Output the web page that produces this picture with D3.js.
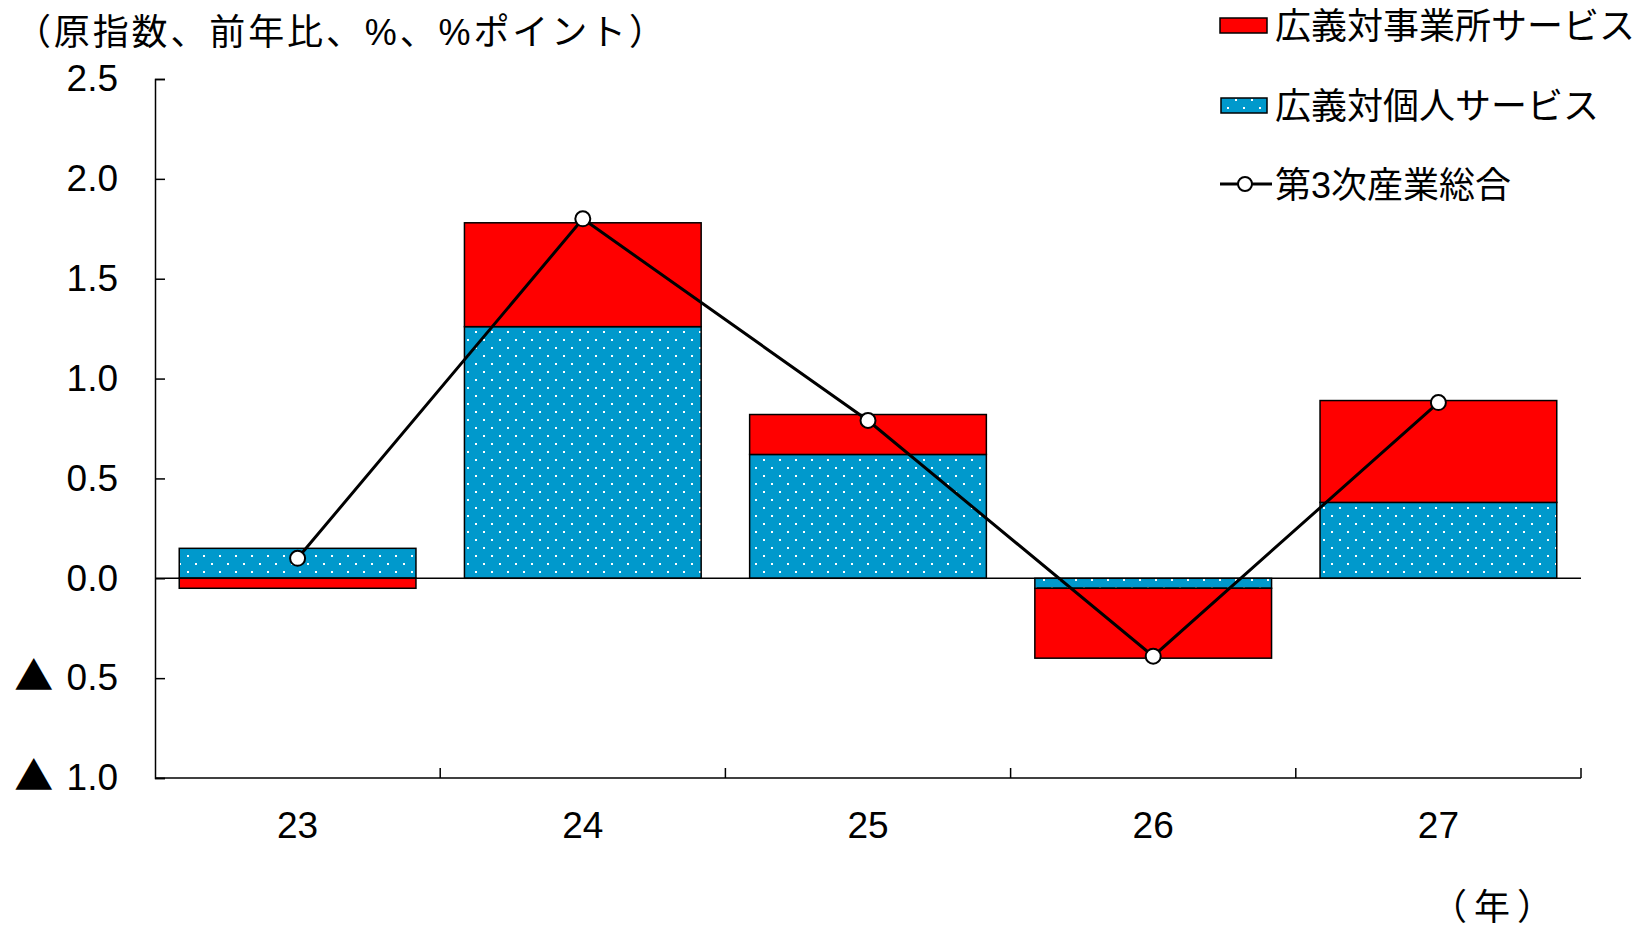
<!DOCTYPE html>
<html>
<head>
<meta charset="utf-8">
<script src="https://cdn.jsdelivr.net/npm/d3@7"></script>
<style>
  body { margin: 0; background: #fff; }
  text { font-family: "Liberation Sans", Arial, "Noto Sans CJK JP", sans-serif; fill: #000; }
</style>
</head>
<body>
<div id="chart"></div>
<script>
var years = ["23", "24", "25", "26", "27"];
var kojin = [0.15, 1.26, 0.62, -0.05, 0.38];      // 広義対個人サービス
var jigyosho = [-0.05, 0.52, 0.20, -0.35, 0.51];  // 広義対事業所サービス
var sogo = [0.10, 1.80, 0.79, -0.39, 0.88];       // 第3次産業総合
var yTicks = [-1.0, -0.5, 0.0, 0.5, 1.0, 1.5, 2.0, 2.5];

var width = 1652, height = 931;
var plotLeft = 155, plotRight = 1581, plotTop = 79, plotBottom = 778;

var svg = d3.select('#chart')
            .append('svg')
            .attr('width', width)
            .attr('height', height);

var defs = svg.append('defs');
var pat = defs.append('pattern')
              .attr('id', 'dots')
              .attr('patternUnits', 'userSpaceOnUse')
              .attr('width', 16)
              .attr('height', 16);
pat.append('rect').attr('width', 16).attr('height', 16).attr('fill', '#0099cc');
pat.append('rect').attr('x', 3).attr('y', 3).attr('width', 2).attr('height', 2).attr('fill', '#fff');
pat.append('rect').attr('x', 11).attr('y', 11).attr('width', 2).attr('height', 2).attr('fill', '#fff');

var x = d3.scaleBand()
          .domain(years)
          .range([plotLeft, plotRight])
          .paddingInner(0.17)
          .paddingOuter(0.085);

var y = d3.scaleLinear()
          .domain([-1, 2.5])
          .range([plotBottom, plotTop]);

// stacked bars (blue first, then red), diverging
var table = years.map(function(d, i) {
	return { year: d, kojin: kojin[i], jigyosho: jigyosho[i] };
});
var stack = d3.stack()
              .keys(['kojin', 'jigyosho'])
              .offset(d3.stackOffsetDiverging);
var series = stack(table);
var fills = { kojin: 'url(#dots)', jigyosho: '#ff0000' };

svg.append('g').selectAll('g')
   .data(series)
   .enter().append('g')
   .attr('fill', function(s) { return fills[s.key]; })
   .selectAll('rect')
   .data(function(s) { return s; })
   .enter().append('rect')
   .attr('x', function(d) { return x(d.data.year); })
   .attr('width', x.bandwidth())
   .attr('y', function(d) { return y(Math.max(d[0], d[1])); })
   .attr('height', function(d) { return Math.abs(y(d[0]) - y(d[1])); })
   .attr('stroke', '#000')
   .attr('stroke-width', 1.5);

// zero line
svg.append('line')
   .attr('x1', plotLeft).attr('x2', plotRight)
   .attr('y1', y(0)).attr('y2', y(0))
   .attr('stroke', '#000')
   .attr('stroke-width', 1.5);

// y axis
var yAxis = d3.axisLeft(y)
              .tickValues(yTicks)
              .tickSize(-10)
              .tickPadding(37)
              .tickFormat(function(v) { return Math.abs(v).toFixed(1); });
var gy = svg.append('g')
            .attr('transform', 'translate(' + plotLeft + ',0)')
            .call(yAxis);
gy.selectAll('path, line').attr('stroke', '#000').attr('stroke-width', 1.5);
gy.selectAll('text').style('font-size', '37px').attr('fill', '#000');
// negative values get a ▲ mark in front
gy.selectAll('.tick text')
  .filter(function(v) { return v < 0; })
  .each(function(v) {
      var t = d3.select(this).text('');
      t.append('tspan')
       .style('font-family', '"Noto Sans CJK JP", sans-serif')
       .style('font-size', '39px')
       .text('▲');
      t.append('tspan').attr('dx', 3).text(' ' + Math.abs(v).toFixed(1));
  });

// x axis: labels
var xAxis = d3.axisBottom(x).tickSize(0).tickPadding(34);
var gx = svg.append('g')
            .attr('transform', 'translate(0,' + plotBottom + ')')
            .call(xAxis);
gx.select('.domain').remove();
gx.selectAll('text').style('font-size', '37px').attr('fill', '#000');

// x axis line and boundary ticks
svg.append('line')
   .attr('x1', plotLeft).attr('x2', plotRight)
   .attr('y1', plotBottom).attr('y2', plotBottom)
   .attr('stroke', '#000').attr('stroke-width', 1.5);
var edges = years.map(function(d) { return x(d) - x.step() * x.paddingInner() / 2; });
edges.push(plotRight);
svg.append('g').selectAll('line')
   .data(edges.slice(1))
   .enter().append('line')
   .attr('x1', function(d) { return d; })
   .attr('x2', function(d) { return d; })
   .attr('y1', plotBottom).attr('y2', plotBottom - 10)
   .attr('stroke', '#000').attr('stroke-width', 1.5);

// total line
var line = d3.line()
             .x(function(d, i) { return x(years[i]) + x.bandwidth() / 2; })
             .y(function(d) { return y(d); });
svg.append('path')
   .datum(sogo)
   .attr('d', line)
   .attr('fill', 'none')
   .attr('stroke', '#000')
   .attr('stroke-width', 3);
svg.append('g').selectAll('circle')
   .data(sogo)
   .enter().append('circle')
   .attr('cx', function(d, i) { return x(years[i]) + x.bandwidth() / 2; })
   .attr('cy', function(d) { return y(d); })
   .attr('r', 7.5)
   .attr('fill', '#fff')
   .attr('stroke', '#000')
   .attr('stroke-width', 2);

// titles
svg.append('text')
   .attr('x', 15).attr('y', 45)
   .attr('textLength', 650)
   .attr('lengthAdjust', 'spacing')
   .style('font-size', '36px')
   .text('（原指数、前年比、%、%ポイント）');
svg.append('text')
   .attr('x', 1431).attr('y', 920)
   .attr('textLength', 122)
   .attr('lengthAdjust', 'spacing')
   .style('font-size', '36px')
   .text('（年）');

// legend
var lg = svg.append('g');
lg.append('rect').attr('x', 1220).attr('y', 18).attr('width', 47).attr('height', 15)
  .attr('fill', '#ff0000').attr('stroke', '#000').attr('stroke-width', 1.5);
lg.append('text').attr('x', 1275).attr('y', 39).style('font-size', '36px').text('広義対事業所サービス');
lg.append('rect').attr('x', 1221).attr('y', 98).attr('width', 46).attr('height', 15)
  .attr('fill', 'url(#dots)').attr('stroke', '#000').attr('stroke-width', 1.5);
lg.append('text').attr('x', 1275).attr('y', 119).style('font-size', '36px').text('広義対個人サービス');
lg.append('line').attr('x1', 1220).attr('x2', 1272).attr('y1', 184).attr('y2', 184)
  .attr('stroke', '#000').attr('stroke-width', 3);
lg.append('circle').attr('cx', 1245).attr('cy', 184).attr('r', 7)
  .attr('fill', '#fff').attr('stroke', '#000').attr('stroke-width', 2);
lg.append('text').attr('x', 1275).attr('y', 198).style('font-size', '36px').text('第3次産業総合');
</script>
</body>
</html>
